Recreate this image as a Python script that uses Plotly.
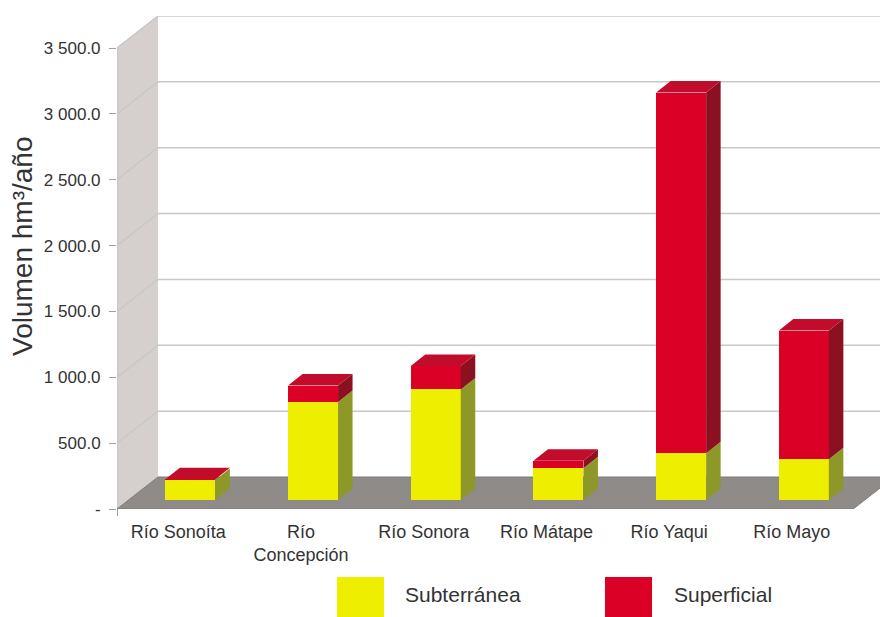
import plotly.graph_objects as go

# ---------------- data ----------------
rios = ["Río Sonoíta", "Río<br>Concepción", "Río Sonora", "Río Mátape", "Río Yaqui", "Río Mayo"]
subterranea = [152, 744, 839, 241, 355, 309]
superficial = [5, 125, 178, 57, 2738, 977]
y_tickvals = [0, 500, 1000, 1500, 2000, 2500, 3000, 3500]
y_ticktext = ["-", "500.0", "1 000.0", "1 500.0", "2 000.0", "2 500.0", "3 000.0", "3 500.0"]
series_names = ["Subterránea", "Superficial"]

# ---------------- styling / geometry ----------------
W, H = 880, 617
ML, MR, MT, MB = 117, 0, 16, 108
PW, PH = W - ML - MR, H - MT - MB
PX_X = 122.7                 # pixels per category unit
PX_Y = 461.0 / 3500.0        # pixels per data unit
x_range = [-0.5, -0.5 + PW / PX_X]
y_range = [0, PH / PX_Y]

WALL_DX, WALL_DY = 41 / PX_X, 32 / PX_Y
BAR_DX, BAR_DY = 14.5 / PX_X, 11.5 / PX_Y
BAR_SHIFT, BAR_LIFT = 12 / PX_X, 9 / PX_Y
BAR_W = 50 / PX_X

YEL, YEL_SIDE = "#EEEE00", "#8E9828"
RED, RED_TOP, RED_SIDE = "#DA0026", "#C20C2C", "#8A1022"
WALL, FLOOR, GRID = "#D5D0CE", "#8F8B89", "#C8C8C8"
FONT = "Liberation Sans, Arial, sans-serif"
TXT = "#333333"

n = len(rios)
xs = [i + BAR_SHIFT for i in range(n)]

fig = go.Figure()

# front faces as real bars
fig.add_trace(go.Bar(x=xs, y=subterranea, base=[BAR_LIFT] * n, width=BAR_W,
                     marker=dict(color=YEL, line=dict(width=0)), name=series_names[0],
                     showlegend=False))
fig.add_trace(go.Bar(x=xs, y=superficial, base=[BAR_LIFT + s for s in subterranea], width=BAR_W,
                     marker=dict(color=RED, line=dict(width=0)), name=series_names[1],
                     showlegend=False))

# 3D side and top faces computed from the data
def side_poly(lo_list, hi_list):
    px, py = [], []
    for i in range(n):
        xr = xs[i] + BAR_W / 2
        lo, hi = lo_list[i], hi_list[i]
        px += [xr, xr + BAR_DX, xr + BAR_DX, xr, xr, None]
        py += [lo, lo + BAR_DY, hi + BAR_DY, hi, lo, None]
    return px, py

lo_y = [BAR_LIFT] * n
mid_y = [BAR_LIFT + s for s in subterranea]
top_y = [BAR_LIFT + s + u for s, u in zip(subterranea, superficial)]

sx, sy = side_poly(lo_y, mid_y)
fig.add_trace(go.Scatter(x=sx, y=sy, fill="toself", fillcolor=YEL_SIDE, mode="lines",
                         line=dict(width=0, color=YEL_SIDE), hoverinfo="skip", showlegend=False))
sx, sy = side_poly(mid_y, top_y)
fig.add_trace(go.Scatter(x=sx, y=sy, fill="toself", fillcolor=RED_SIDE, mode="lines",
                         line=dict(width=0, color=RED_SIDE), hoverinfo="skip", showlegend=False))
tx, ty = [], []
for i in range(n):
    xl, xr, t = xs[i] - BAR_W / 2, xs[i] + BAR_W / 2, top_y[i]
    tx += [xl, xl + BAR_DX, xr + BAR_DX, xr, xl, None]
    ty += [t, t + BAR_DY, t + BAR_DY, t, t, None]
fig.add_trace(go.Scatter(x=tx, y=ty, fill="toself", fillcolor=RED_TOP, mode="lines",
                         line=dict(width=0, color=RED_TOP), hoverinfo="skip", showlegend=False))

# ---------------- walls, floor, grid ----------------
shapes = []
x0 = x_range[0]
top_v = y_tickvals[-1]
shapes.append(dict(type="path", xref="x", yref="y", layer="below",
                   path=f"M{x0},0 L{x0},{top_v} L{x0+WALL_DX},{top_v+WALL_DY} L{x0+WALL_DX},{WALL_DY} Z",
                   fillcolor=WALL, line=dict(width=0)))
for v in y_tickvals[1:]:
    shapes.append(dict(type="line", xref="x", yref="y", layer="below",
                       x0=x0, y0=v, x1=x0 + WALL_DX, y1=v + WALL_DY, line=dict(color=GRID, width=1.5)))
    shapes.append(dict(type="line", xref="x", yref="y", layer="below",
                       x0=x0 + WALL_DX, y0=v + WALL_DY, x1=x_range[1] + 1, y1=v + WALL_DY,
                       line=dict(color=GRID, width=1.5)))
shapes.append(dict(type="line", xref="x", yref="y", layer="below",
                   x0=x0 + 0.004, y0=0, x1=x0 + 0.004, y1=top_v, line=dict(color=GRID, width=1.5)))
x_end = n - 0.5
shapes.append(dict(type="path", xref="x", yref="y", layer="below",
                   path=f"M{x0},0 L{x_end},0 L{x_end+WALL_DX},{WALL_DY} L{x0+WALL_DX},{WALL_DY} Z",
                   fillcolor=FLOOR, line=dict(color="#7E7B79", width=1)))

# ---------------- custom legend ----------------
def px2paper_x(p):
    return (p - ML) / PW

def px2paper_y(p):
    return (H - MB - p) / PH

# small tick at the bottom of the front edge
shapes.append(dict(type="line", xref="paper", yref="paper",
                   x0=px2paper_x(117.5), x1=px2paper_x(117.5), y0=px2paper_y(509), y1=px2paper_y(516),
                   line=dict(color="#A0A0A0", width=1)))

annotations = []
leg = [(337, 403, YEL, series_names[0]), (605, 672, RED, series_names[1])]
for bx, tx_, col, name in leg:
    shapes.append(dict(type="rect", xref="paper", yref="paper",
                       x0=px2paper_x(bx), x1=px2paper_x(bx + 47),
                       y0=px2paper_y(630), y1=px2paper_y(577),
                       fillcolor=col, line=dict(width=0)))
    annotations.append(dict(xref="paper", yref="paper", x=px2paper_x(tx_), y=px2paper_y(594),
                            text=name, showarrow=False, xanchor="left", yanchor="middle",
                            font=dict(family=FONT, size=21, color=TXT)))

annotations.append(dict(xref="paper", yref="paper", x=px2paper_x(22), y=px2paper_y(247),
                        text="Volumen hm³/año", textangle=-90, showarrow=False,
                        xanchor="center", yanchor="middle",
                        font=dict(family=FONT, size=28, color=TXT)))

fig.update_layout(
    width=W, height=H,
    margin=dict(l=ML, r=MR, t=MT, b=MB, pad=0),
    paper_bgcolor="white", plot_bgcolor="white",
    barmode="overlay", bargap=0,
    showlegend=False,
    shapes=shapes, annotations=annotations,
    xaxis=dict(range=x_range, tickmode="array", tickvals=list(range(n)), ticktext=rios,
               showgrid=False, zeroline=False, showline=False, ticks="", ticklabelstandoff=10,
               tickfont=dict(family=FONT, size=18, color=TXT), fixedrange=True),
    yaxis=dict(range=y_range, tickmode="array", tickvals=y_tickvals, ticktext=y_ticktext,
               showgrid=False, zeroline=False, showline=False, ticks="outside", ticklen=7,
               tickcolor="#A0A0A0", tickwidth=1, ticklabelstandoff=5,
               tickfont=dict(family=FONT, size=17, color=TXT), fixedrange=True),
)

fig.write_html("out.html")
